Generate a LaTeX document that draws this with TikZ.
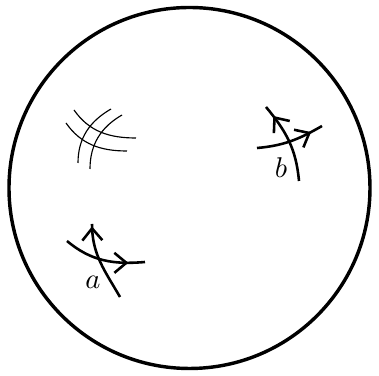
\documentclass[tikz,border=0pt]{standalone}
\usetikzlibrary{arrows.meta,decorations.markings}
\begin{document}
\begin{tikzpicture}[x=0.35pt, y=0.35pt,
		flow/.style={line width=0.9pt},
		gridline/.style={line width=0.4pt},
		tipat/.style={postaction={decorate, decoration={markings,
			mark=at position #1 with {\arrow{Straight Barb[length=4.2pt, width=7pt, line width=0.9pt]}}}}}]
		\useasboundingbox (0,0) rectangle (379,376);
		\coordinate (c) at (189.5,188);
		\draw[line width=1.2pt] (c) circle (180.5);

		% grid of thin curves
		\coordinate (g1s) at (74,266);  \coordinate (g1e) at (136,238);
		\coordinate (g2s) at (66,253);  \coordinate (g2e) at (127,225);
		\coordinate (g3s) at (111,267); \coordinate (g3e) at (78,213);
		\coordinate (g4s) at (122,261); \coordinate (g4e) at (90,207);
		\draw[gridline] (g1s) to[out=-55, in=180] (g1e);
		\draw[gridline] (g2s) to[out=-55, in=180] (g2e);
		\draw[gridline] (g3s) to[out=210, in=90] (g3e);
		\draw[gridline] (g4s) to[out=210, in=90] (g4e);

		% crossing at b
		\coordinate (bhs) at (257,228); \coordinate (bhe) at (322,250);
		\coordinate (bvs) at (299,195); \coordinate (bve) at (266,269);
		\draw[flow, tipat=0.82] (bhs) to[out=5, in=210] (bhe);
		\draw[flow, tipat=0.86] (bvs) to[out=95, in=-50] (bve);
		\node (lb) at (281,208) {$b$};

		% crossing at a
		\coordinate (ahs) at (67,135);  \coordinate (ahe) at (145,114);
		\coordinate (avs) at (120,79);  \coordinate (ave) at (92,152);
		\draw[flow, tipat=0.8] (ahs) to[out=-40, in=185] (ahe);
		\draw[flow, tipat=0.97] (avs) to[out=120, in=-90] (ave);
		\node (la) at (93,94) {$a$};
	\end{tikzpicture}
\end{document}
